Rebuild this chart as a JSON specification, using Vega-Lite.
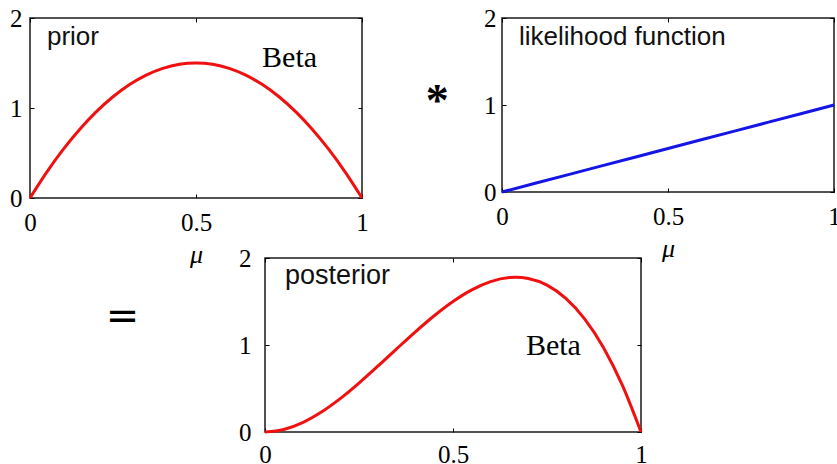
{
  "$schema": "https://vega.github.io/schema/vega-lite/v6.json",
  "padding": {"left": 8, "top": 5, "right": 0, "bottom": 0},
  "background": "white",
  "bounds": "flush",
  "spacing": 240,
  "config": {
    "view": {"stroke": "#1a1a1a", "strokeWidth": 1.5},
    "axis": {
      "grid": false, "domain": false, "labelFlush": false, "labelOverlap": false,
      "labelFont": "Liberation Serif", "labelFontSize": 25, "labelColor": "#000",
      "tickColor": "#000", "tickSize": -4, "tickWidth": 1,
      "titleFont": "Liberation Serif", "titleFontStyle": "italic", "titleFontWeight": "normal",
      "titleFontSize": 26, "titleColor": "#000"
    }
  },
  "datasets": {
    "prior": [
      {"mu": 0, "density": 0}, {"mu": 0.05, "density": 0.285}, {"mu": 0.1, "density": 0.54},
      {"mu": 0.15, "density": 0.765}, {"mu": 0.2, "density": 0.96}, {"mu": 0.25, "density": 1.125},
      {"mu": 0.3, "density": 1.26}, {"mu": 0.35, "density": 1.365}, {"mu": 0.4, "density": 1.44},
      {"mu": 0.45, "density": 1.485}, {"mu": 0.5, "density": 1.5}, {"mu": 0.55, "density": 1.485},
      {"mu": 0.6, "density": 1.44}, {"mu": 0.65, "density": 1.365}, {"mu": 0.7, "density": 1.26},
      {"mu": 0.75, "density": 1.125}, {"mu": 0.8, "density": 0.96}, {"mu": 0.85, "density": 0.765},
      {"mu": 0.9, "density": 0.54}, {"mu": 0.95, "density": 0.285}, {"mu": 1, "density": 0}
    ],
    "likelihood": [
      {"mu": 0, "density": 0}, {"mu": 0.1, "density": 0.1}, {"mu": 0.2, "density": 0.2},
      {"mu": 0.3, "density": 0.3}, {"mu": 0.4, "density": 0.4}, {"mu": 0.5, "density": 0.5},
      {"mu": 0.6, "density": 0.6}, {"mu": 0.7, "density": 0.7}, {"mu": 0.8, "density": 0.8},
      {"mu": 0.9, "density": 0.9}, {"mu": 1, "density": 1}
    ],
    "posterior": [
      {"mu": 0, "density": 0}, {"mu": 0.05, "density": 0.0285}, {"mu": 0.1, "density": 0.108},
      {"mu": 0.15, "density": 0.2295}, {"mu": 0.2, "density": 0.384}, {"mu": 0.25, "density": 0.5625},
      {"mu": 0.3, "density": 0.756}, {"mu": 0.35, "density": 0.9555}, {"mu": 0.4, "density": 1.152},
      {"mu": 0.45, "density": 1.3365}, {"mu": 0.5, "density": 1.5}, {"mu": 0.55, "density": 1.6335},
      {"mu": 0.6, "density": 1.728}, {"mu": 0.65, "density": 1.7745}, {"mu": 0.667, "density": 1.7778},
      {"mu": 0.7, "density": 1.764}, {"mu": 0.75, "density": 1.6875}, {"mu": 0.8, "density": 1.536},
      {"mu": 0.85, "density": 1.3005}, {"mu": 0.9, "density": 0.972}, {"mu": 0.95, "density": 0.5415},
      {"mu": 1, "density": 0}
    ]
  },
  "vconcat": [
    {
      "hconcat": [
        {
          "width": 332, "height": 180,
          "layer": [
            {
              "data": {"name": "prior"},
              "mark": {"type": "line", "color": "#f01010", "strokeWidth": 3, "interpolate": "monotone"},
              "encoding": {
                "x": {"field": "mu", "type": "quantitative", "scale": {"domain": [0, 1]},
                      "axis": {"orient": "bottom", "values": [0, 0.5, 1], "format": "~g", "title": "μ", "labelPadding": 16, "titlePadding": 6}},
                "y": {"field": "density", "type": "quantitative", "scale": {"domain": [0, 2]},
                      "axis": {"orient": "left", "values": [0, 1, 2], "format": "~g", "title": null, "labelPadding": 12}}
              }
            },
            {
              "data": {"values": [{"mu": 0.051, "density": 1.70, "label": "prior"}]},
              "mark": {"type": "text", "font": "Liberation Sans", "fontSize": 26, "align": "left", "baseline": "alphabetic", "color": "#111"},
              "encoding": {
                "x": {"field": "mu", "type": "quantitative", "scale": {"domain": [0, 1]},
                      "axis": {"orient": "top", "values": [0, 0.5, 1], "labels": false, "title": null}},
                "y": {"field": "density", "type": "quantitative", "scale": {"domain": [0, 2]},
                      "axis": {"orient": "right", "values": [0, 1, 2], "labels": false, "title": null}},
                "text": {"field": "label"}
              }
            },
            {
              "data": {"values": [{"mu": 0.699, "density": 1.456, "label": "Beta"}]},
              "mark": {"type": "text", "font": "Liberation Serif", "fontSize": 30, "align": "left", "baseline": "alphabetic", "color": "#000"},
              "encoding": {
                "x": {"field": "mu", "type": "quantitative", "scale": {"domain": [0, 1]}, "axis": null},
                "y": {"field": "density", "type": "quantitative", "scale": {"domain": [0, 2]}, "axis": null},
                "text": {"field": "label"}
              }
            }
          ],
          "resolve": {"axis": {"x": "independent", "y": "independent"}}
        },
        {
          "width": 332, "height": 174,
          "layer": [
            {
              "data": {"name": "likelihood"},
              "mark": {"type": "line", "color": "#1515e6", "strokeWidth": 3},
              "encoding": {
                "x": {"field": "mu", "type": "quantitative", "scale": {"domain": [0, 1]},
                      "axis": {"orient": "bottom", "values": [0, 0.5, 1], "format": "~g", "title": "μ", "labelPadding": 16, "titlePadding": 6}},
                "y": {"field": "density", "type": "quantitative", "scale": {"domain": [0, 2]},
                      "axis": {"orient": "left", "values": [0, 1, 2], "format": "~g", "title": null, "labelPadding": 10}}
              }
            },
            {
              "data": {"values": [{"mu": 0.051, "density": 1.69, "label": "likelihood function"}]},
              "mark": {"type": "text", "font": "Liberation Sans", "fontSize": 26, "align": "left", "baseline": "alphabetic", "color": "#111"},
              "encoding": {
                "x": {"field": "mu", "type": "quantitative", "scale": {"domain": [0, 1]},
                      "axis": {"orient": "top", "values": [0, 0.5, 1], "labels": false, "title": null}},
                "y": {"field": "density", "type": "quantitative", "scale": {"domain": [0, 2]},
                      "axis": {"orient": "right", "values": [0, 1, 2], "labels": false, "title": null}},
                "text": {"field": "label"}
              }
            },
            {
              "data": {"values": [{"mu": -0.195, "density": 0.874, "label": "*"}]},
              "mark": {"type": "text", "font": "Liberation Serif", "fontSize": 46, "fontWeight": "bold", "align": "center", "baseline": "alphabetic", "color": "#000"},
              "encoding": {
                "x": {"field": "mu", "type": "quantitative", "scale": {"domain": [0, 1]}, "axis": null},
                "y": {"field": "density", "type": "quantitative", "scale": {"domain": [0, 2]}, "axis": null},
                "text": {"field": "label"}
              }
            }
          ],
          "resolve": {"axis": {"x": "independent", "y": "independent"}}
        }
      ],
      "spacing": 140,
      "bounds": "flush"
    },
    {
      "hconcat": [
        {
          "width": 185, "height": 174,
          "view": {"stroke": null},
          "data": {"values": [{"px": 0.5, "py": 0.59, "label": "="}]},
          "mark": {"type": "text", "font": "DejaVu Sans", "fontSize": 40, "align": "center", "baseline": "alphabetic", "color": "#000"},
          "encoding": {
            "x": {"field": "px", "type": "quantitative", "scale": {"domain": [0, 1]}, "axis": null},
            "y": {"field": "py", "type": "quantitative", "scale": {"domain": [0, 1]}, "axis": null},
            "text": {"field": "label"}
          }
        },
        {
          "width": 376, "height": 174,
          "layer": [
            {
              "data": {"name": "posterior"},
              "mark": {"type": "line", "color": "#f01010", "strokeWidth": 3, "interpolate": "monotone"},
              "encoding": {
                "x": {"field": "mu", "type": "quantitative", "scale": {"domain": [0, 1]},
                      "axis": {"orient": "bottom", "values": [0, 0.5, 1], "format": "~g", "title": null, "labelPadding": 14}},
                "y": {"field": "density", "type": "quantitative", "scale": {"domain": [0, 2]},
                      "axis": {"orient": "left", "values": [0, 1, 2], "format": "~g", "title": null, "labelPadding": 18}}
              }
            },
            {
              "data": {"values": [{"mu": 0.053, "density": 1.70, "label": "posterior"}]},
              "mark": {"type": "text", "font": "Liberation Sans", "fontSize": 27, "align": "left", "baseline": "alphabetic", "color": "#111"},
              "encoding": {
                "x": {"field": "mu", "type": "quantitative", "scale": {"domain": [0, 1]},
                      "axis": {"orient": "top", "values": [0, 0.5, 1], "labels": false, "title": null}},
                "y": {"field": "density", "type": "quantitative", "scale": {"domain": [0, 2]},
                      "axis": {"orient": "right", "values": [0, 1, 2], "labels": false, "title": null}},
                "text": {"field": "label"}
              }
            },
            {
              "data": {"values": [{"mu": 0.694, "density": 0.885, "label": "Beta"}]},
              "mark": {"type": "text", "font": "Liberation Serif", "fontSize": 30, "align": "left", "baseline": "alphabetic", "color": "#000"},
              "encoding": {
                "x": {"field": "mu", "type": "quantitative", "scale": {"domain": [0, 1]}, "axis": null},
                "y": {"field": "density", "type": "quantitative", "scale": {"domain": [0, 2]}, "axis": null},
                "text": {"field": "label"}
              }
            }
          ],
          "resolve": {"axis": {"x": "independent", "y": "independent"}}
        }
      ],
      "spacing": 50,
      "bounds": "flush"
    }
  ]
}
